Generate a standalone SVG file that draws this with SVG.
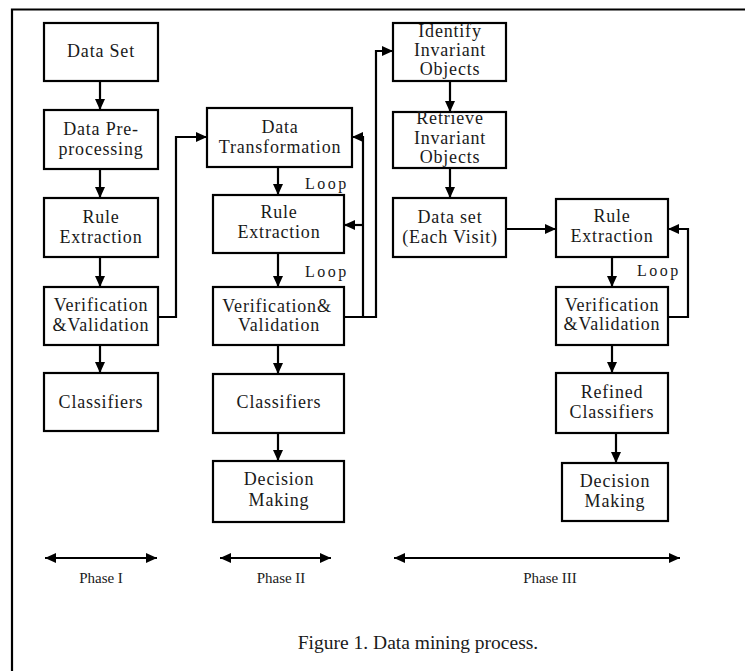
<svg xmlns="http://www.w3.org/2000/svg" width="745" height="671" viewBox="0 0 745 671">
<defs>
<marker id="ah" markerUnits="userSpaceOnUse" markerWidth="12" markerHeight="12" viewBox="0 0 12 12" refX="11" refY="6" orient="auto-start-reverse">
<path d="M0,1 L11,6 L0,11 Z" fill="#000"/>
</marker>
</defs>
<style>
.box{fill:#fff;stroke:#000;stroke-width:2.2}
.t{font-family:"Liberation Serif","Times New Roman",serif;font-size:18px;letter-spacing:0.8px;fill:#1a1a1a;text-anchor:middle}
.loop{font-family:"Liberation Serif","Times New Roman",serif;font-size:16px;letter-spacing:2.5px;fill:#1a1a1a}
.c{fill:none;stroke:#000;stroke-width:2.2}
.a{marker-end:url(#ah)}
.ph{font-family:"Liberation Serif","Times New Roman",serif;font-size:15px;fill:#1a1a1a;text-anchor:middle}
.cap{font-family:"Liberation Serif","Times New Roman",serif;font-size:19.5px;fill:#1a1a1a;text-anchor:middle}
</style>
<rect width="745" height="671" fill="#fff"/>
<path d="M12,671 V9.5 H745" fill="none" stroke="#000" stroke-width="2.2"/>

<g id="connectors">
<line class="c a" x1="100" y1="81" x2="100" y2="110"/>
<line class="c a" x1="100" y1="169" x2="100" y2="198"/>
<line class="c a" x1="100" y1="257" x2="100" y2="287"/>
<line class="c a" x1="100" y1="345" x2="100" y2="373"/>
<polyline class="c a" points="158,317 176,317 176,137 207,137"/>
<line class="c a" x1="278" y1="167" x2="278" y2="195"/>
<line class="c a" x1="278" y1="253" x2="278" y2="287"/>
<line class="c a" x1="278" y1="345" x2="278" y2="374"/>
<line class="c a" x1="278" y1="433" x2="278" y2="461"/>
<polyline class="c a" points="344,317 376,317 376,51 393,51"/>
<polyline class="c a" points="363,317 363,137 352,137"/>
<line class="c a" x1="363" y1="225" x2="344" y2="225"/>
<line class="c a" x1="450" y1="81" x2="450" y2="112"/>
<line class="c a" x1="450" y1="157" x2="450" y2="198"/>
<line class="c a" x1="506" y1="229" x2="556" y2="229"/>
<line class="c a" x1="612" y1="257" x2="612" y2="287"/>
<polyline class="c a" points="668,317 688,317 688,229 668,229"/>
<line class="c a" x1="612" y1="345" x2="612" y2="373"/>
<line class="c a" x1="616" y1="433" x2="616" y2="463"/>
<line class="c a" x1="45" y1="558" x2="157" y2="558" marker-start="url(#ah)"/>
<line class="c a" x1="220" y1="558" x2="331" y2="558" marker-start="url(#ah)"/>
<line class="c a" x1="394" y1="558" x2="680" y2="558" marker-start="url(#ah)"/>
</g>

<g id="n-dataset"><rect class="box" x="44" y="23" width="114" height="58"/><text class="t" x="101" y="57">Data Set</text></g>
<g id="n-preproc"><rect class="box" x="44" y="110" width="114" height="59"/><text class="t" x="101" y="135">Data Pre-</text><text class="t" x="101" y="155">processing</text></g>
<g id="n-rule1"><rect class="box" x="44" y="198" width="114" height="59"/><text class="t" x="101" y="223">Rule</text><text class="t" x="101" y="243">Extraction</text></g>
<g id="n-vv1"><rect class="box" x="44" y="287" width="114" height="58"/><text class="t" x="101" y="311">Verification</text><text class="t" x="101" y="331">&amp;Validation</text></g>
<g id="n-class1"><rect class="box" x="44" y="373" width="114" height="58"/><text class="t" x="101" y="408">Classifiers</text></g>

<g id="n-transform"><rect class="box" x="207" y="108" width="145" height="59"/><text class="t" x="280" y="133">Data</text><text class="t" x="280" y="153">Transformation</text></g>
<g id="n-rule2"><rect class="box" x="213" y="195" width="131" height="58"/><text class="t" x="279" y="218">Rule</text><text class="t" x="279" y="238">Extraction</text></g>
<g id="n-vv2"><rect class="box" x="213" y="287" width="131" height="58"/><text class="t" x="277" y="312">Verification&amp;</text><text class="t" x="279" y="331">Validation</text></g>
<g id="n-class2"><rect class="box" x="213" y="374" width="131" height="59"/><text class="t" x="279" y="408">Classifiers</text></g>
<g id="n-decision2"><rect class="box" x="213" y="461" width="131" height="61"/><text class="t" x="279" y="485">Decision</text><text class="t" x="279" y="506">Making</text></g>

<g id="n-identify"><rect class="box" x="393" y="23" width="113" height="58"/><text class="t" x="450" y="37">Identify</text><text class="t" x="450" y="56">Invariant</text><text class="t" x="450" y="75">Objects</text></g>
<g id="n-retrieve"><rect class="box" x="393" y="112" width="113" height="56"/><text class="t" x="450" y="124">Retrieve</text><text class="t" x="450" y="144">Invariant</text><text class="t" x="450" y="163">Objects</text></g>
<g id="n-dataset3"><rect class="box" x="393" y="198" width="113" height="59"/><text class="t" x="450" y="223">Data set</text><text class="t" x="450" y="243">(Each Visit)</text></g>
<g id="n-rule3"><rect class="box" x="556" y="199" width="112" height="58"/><text class="t" x="612" y="222">Rule</text><text class="t" x="612" y="242">Extraction</text></g>
<g id="n-vv3"><rect class="box" x="556" y="287" width="112" height="58"/><text class="t" x="612" y="311">Verification</text><text class="t" x="612" y="330">&amp;Validation</text></g>
<g id="n-refined"><rect class="box" x="556" y="373" width="112" height="60"/><text class="t" x="612" y="398">Refined</text><text class="t" x="612" y="418">Classifiers</text></g>
<g id="n-decision3"><rect class="box" x="562" y="463" width="106" height="58"/><text class="t" x="615" y="487">Decision</text><text class="t" x="615" y="507">Making</text></g>

<text class="loop" x="305" y="189">Loop</text>
<text class="loop" x="305" y="277">Loop</text>
<text class="loop" x="637" y="276">Loop</text>

<text class="ph" x="101" y="583">Phase I</text>
<text class="ph" x="281" y="583">Phase II</text>
<text class="ph" x="550" y="583">Phase III</text>
<text class="cap" x="418" y="649">Figure 1. Data mining process.</text>
</svg>
